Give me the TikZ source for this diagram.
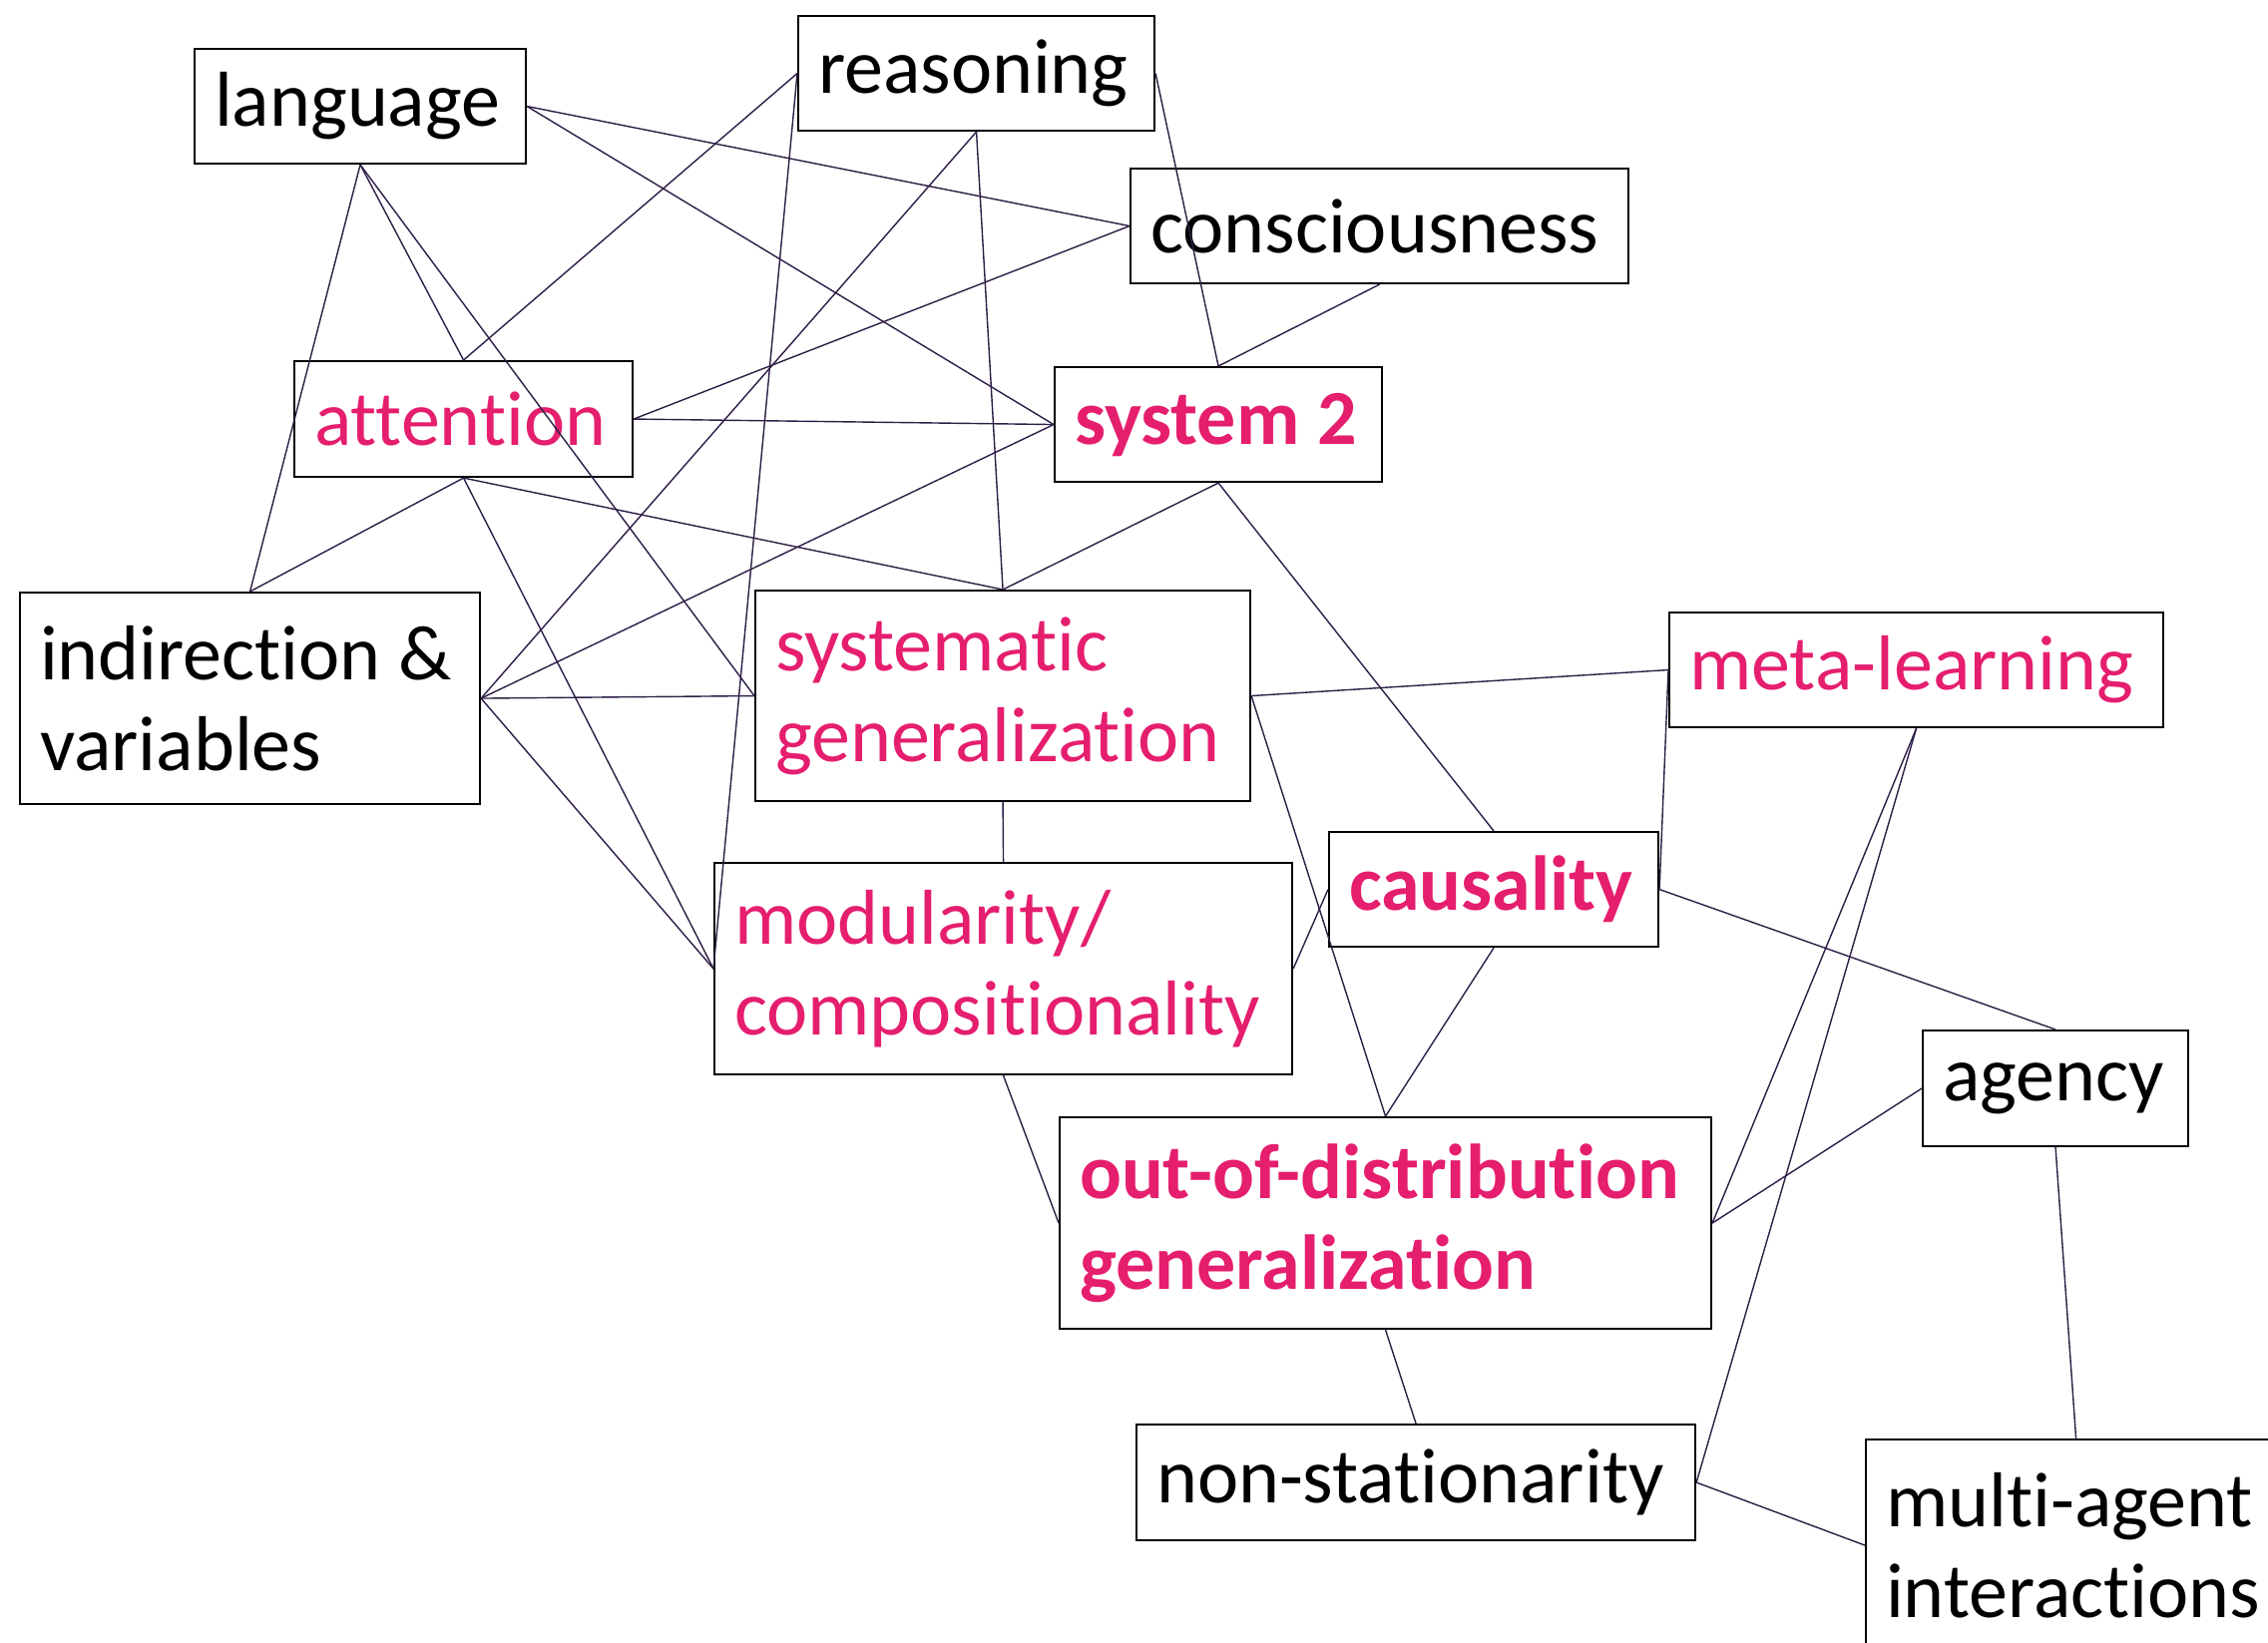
\documentclass[tikz,border=0pt]{standalone}
\usepackage{fontspec}
\setmainfont{Carlito}[Ligatures={NoCommon,NoContextual,NoRare}]
\newcommand\tI{t\kern0pt i}
\definecolor{pinkc}{RGB}{229,30,110}
\definecolor{linec}{RGB}{46,30,70}
\tikzset{
  box/.style={draw=black, line width=0.6pt, anchor=north west, inner xsep=0.2cm, inner ysep=0pt, align=flush left, font=\fontsize{22.2}{26}\selectfont},
  hl/.style={text=pinkc},
  hlb/.style={text=pinkc, font=\fontsize{22.2}{26}\selectfont\bfseries},
  link/.style={draw=linec, line width=0.4pt}
}
\begin{document}
\begin{tikzpicture}
\useasboundingbox (0,0) rectangle (22.73,-16.46);
\clip (0,0) rectangle (22.73,-16.46);
\node[box, minimum height=1.15cm, text width=2.92cm] (language) at (1.94,-0.48) {\mbox{language}};
\node[box, minimum height=1.15cm, text width=3.17cm] (reasoning) at (7.99,-0.15) {\mbox{reasoning}};
\node[box, minimum height=1.15cm, text width=4.59cm] (consciousness) at (11.32,-1.68) {\mbox{consciousness}};
\node[box, hl, minimum height=1.16cm, text width=2.99cm] (attention) at (2.94,-3.61) {\mbox{atten\tI on}};
\node[box, hlb, minimum height=1.15cm, text width=2.88cm] (system2) at (10.56,-3.67) {\mbox{system 2}};
\node[box, minimum height=2.12cm, text width=4.21cm] (indirection) at (0.19,-5.93) {\mbox{indirec\tI on \&}\\\mbox{variables}};
\node[box, hl, minimum height=2.11cm, text width=4.56cm] (systematic) at (7.56,-5.91) {\mbox{systema\tI c}\\\mbox{generaliza\tI on}};
\node[box, hl, minimum height=1.15cm, text width=4.55cm] (metalearning) at (16.72,-6.13) {\mbox{meta-learning}};
\node[box, hl, minimum height=2.12cm, text width=5.39cm] (modularity) at (7.15,-8.64) {\mbox{modularity/}\\\mbox{composi\tI onality}};
\node[box, hlb, minimum height=1.15cm, text width=2.90cm] (causality) at (13.31,-8.33) {\mbox{causality}};
\node[box, minimum height=1.16cm, text width=2.26cm] (agency) at (19.26,-10.32) {\mbox{agency}};
\node[box, hlb, minimum height=2.12cm, text width=6.13cm] (ood) at (10.61,-11.19) {\mbox{out-of-distribu\tI on}\\\mbox{generaliza\tI on}};
\node[box, minimum height=1.16cm, text width=5.20cm] (nonstat) at (11.38,-14.27) {\mbox{non-sta\tI onarity}};
\node[box, minimum height=2.12cm, text width=3.81cm] (multiagent) at (18.69,-14.42) {\mbox{mul\tI-agent}\\\mbox{interac\tI ons}};
\path[link] (language.east) -- (consciousness.west);
\path[link] (language.east) -- (system2.west);
\path[link] (language.south) -- (attention.north);
\path[link] (language.south) -- (indirection.north);
\path[link] (language.south) -- (systematic.west);
\path[link] (reasoning.west) -- (attention.north);
\path[link] (reasoning.west) -- (modularity.west);
\path[link] (reasoning.south) -- (indirection.east);
\path[link] (reasoning.south) -- (systematic.north);
\path[link] (reasoning.east) -- (system2.north);
\path[link] (consciousness.west) -- (attention.east);
\path[link] (consciousness.south) -- (system2.north);
\path[link] (attention.east) -- (system2.west);
\path[link] (attention.south) -- (indirection.north);
\path[link] (attention.south) -- (systematic.north);
\path[link] (attention.south) -- (modularity.west);
\path[link] (system2.west) -- (indirection.east);
\path[link] (system2.south) -- (systematic.north);
\path[link] (system2.south) -- (causality.north);
\path[link] (indirection.east) -- (systematic.west);
\path[link] (indirection.east) -- (modularity.west);
\path[link] (systematic.east) -- (metalearning.west);
\path[link] (systematic.east) -- (ood.north);
\path[link] (systematic.south) -- (modularity.north);
\path[link] (modularity.east) -- (causality.west);
\path[link] (modularity.south) -- (ood.west);
\path[link] (causality.east) -- (metalearning.west);
\path[link] (causality.east) -- (agency.north);
\path[link] (causality.south) -- (ood.north);
\path[link] (metalearning.south) -- (ood.east);
\path[link] (metalearning.south) -- (nonstat.east);
\path[link] (agency.west) -- (ood.east);
\path[link] (agency.south) -- (multiagent.north);
\path[link] (ood.south) -- (nonstat.north);
\path[link] (nonstat.east) -- (multiagent.west);
\end{tikzpicture}
\end{document}
